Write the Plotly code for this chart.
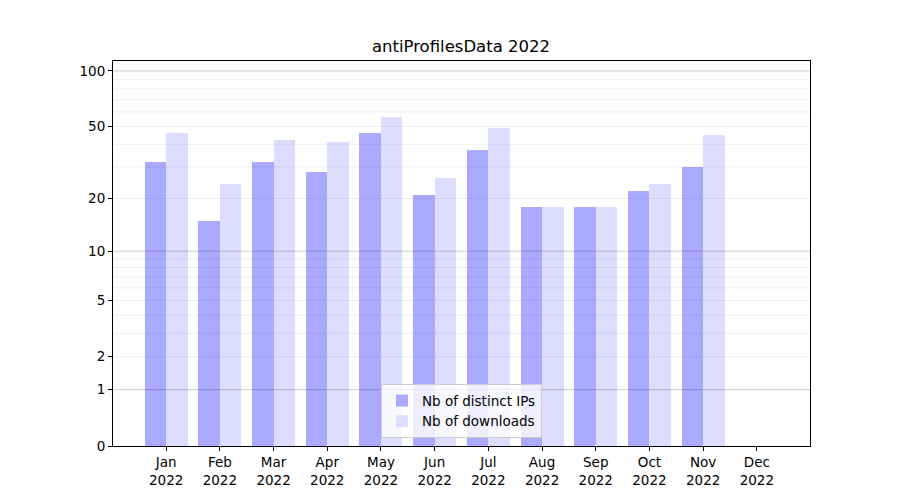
import numpy as np
import plotly.graph_objects as go

months = ["Jan", "Feb", "Mar", "Apr", "May", "Jun", "Jul", "Aug", "Sep", "Oct", "Nov", "Dec"]
year = "2022"
distinct_ips = [32, 15, 32, 28, 46, 21, 37, 18, 18, 22, 30, 0]
downloads = [46, 24, 42, 41, 56, 26, 49, 18, 18, 24, 45, 0]
major_ticks = [0, 1, 2, 5, 10, 20, 50, 100]
dark_grid = [1, 10, 100]
light_grid = [2, 5, 20, 50]
minor_grid = [3, 4, 6, 7, 8, 9, 30, 40, 60, 70, 80, 90]


def fwd(v):
    return np.log10(1 + np.asarray(v, dtype=float))


xs = list(range(len(months)))

fig = go.Figure()
fig.add_trace(go.Bar(x=xs, y=fwd(distinct_ips), width=0.4, offset=-0.4,
                     marker=dict(color="#aaaaff", line=dict(width=0)),
                     name="Nb of distinct IPs"))
fig.add_trace(go.Bar(x=xs, y=fwd(downloads), width=0.4, offset=0.0,
                     marker=dict(color="#ddddff", line=dict(width=0)),
                     name="Nb of downloads"))

shapes = []
for t in dark_grid:
    shapes.append(dict(type="line", xref="paper", x0=0, x1=1, yref="y", y0=float(fwd(t)), y1=float(fwd(t)),
                       line=dict(color="rgba(0,0,0,0.2)", width=1), layer="above"))
for t in light_grid + minor_grid:
    shapes.append(dict(type="line", xref="paper", x0=0, x1=1, yref="y", y0=float(fwd(t)), y1=float(fwd(t)),
                       line=dict(color="rgba(0,0,0,0.065)", width=1), layer="above"))

fig.update_layout(
    width=900, height=500,
    paper_bgcolor="white", plot_bgcolor="white",
    margin=dict(l=105, r=98, t=53, b=62),
    font=dict(family="DejaVu Sans", size=13.5, color="black"),
    title=dict(text="antiProfilesData 2022", x=0.5033, xanchor="center", y=0.924, yanchor="middle",
               font=dict(size=16.5, color="black")),
    barmode="overlay",
    bargap=0,
    shapes=shapes,
    showlegend=True,
    legend=dict(x=0.5, xanchor="center", y=0.02, yanchor="bottom",
                bgcolor="rgba(255,255,255,0.8)", bordercolor="#cccccc", borderwidth=1,
                font=dict(size=13.5), traceorder="normal", itemwidth=30, tracegroupgap=0),
    xaxis=dict(range=[-0.99, 11.99], tickmode="array", tickvals=xs,
               ticktext=[f"{m}<br>{year}" for m in months],
               showgrid=False, zeroline=False, showline=True, mirror=True,
               linecolor="black", linewidth=1, ticks="outside", ticklen=4, tickcolor="black"),
    yaxis=dict(range=[0, 2.0577], tickmode="array", tickvals=list(fwd(major_ticks)),
               ticktext=[str(t) for t in major_ticks],
               showgrid=False, zeroline=False, showline=True, mirror=True,
               linecolor="black", linewidth=1, ticks="outside", ticklen=4, tickcolor="black"),
)

fig.write_html("out.html")
